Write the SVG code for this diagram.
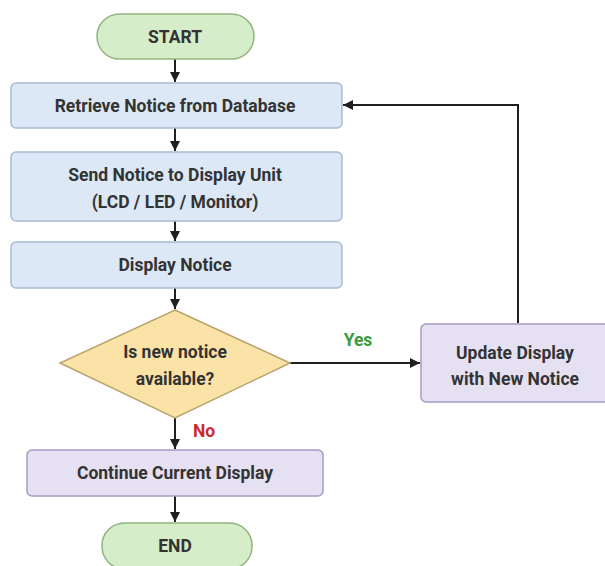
<svg xmlns="http://www.w3.org/2000/svg" width="605" height="566" viewBox="0 0 605 566">
  <defs>
    <marker id="arrow" viewBox="0 0 10 10" refX="10" refY="5" markerWidth="10" markerHeight="10" markerUnits="userSpaceOnUse" orient="auto">
      <path d="M0,0 L10,5 L0,10 Z" fill="#1f1f1f"/>
    </marker>
    <style>
      .term { fill: #d6edc9; stroke: #8fb57f; stroke-width: 1.5; }
      .proc { fill: #dce8f6; stroke: #a8bbd3; stroke-width: 1.5; }
      .alt { fill: #e6e0f3; stroke: #a79bc2; stroke-width: 1.5; }
      .dec { fill: #fbe3a8; stroke: #b9a26c; stroke-width: 1.5; }
      .lbl { font-family: Roboto, "Liberation Sans", sans-serif; font-weight: 700; font-size: 17.5px; fill: #333333; text-anchor: middle; dominant-baseline: central; }
      .edge { fill: none; stroke: #1f1f1f; stroke-width: 2; }
      .yes { fill: #3c9a3c; }
      .no { fill: #cc2a2a; }
    </style>
  </defs>
  <rect width="605" height="566" fill="#ffffff"/>

  <g id="connectors">
    <line class="edge" x1="175" y1="59" x2="175" y2="82" marker-end="url(#arrow)"/>
    <line class="edge" x1="175" y1="128" x2="175" y2="151" marker-end="url(#arrow)"/>
    <line class="edge" x1="175" y1="221" x2="175" y2="241" marker-end="url(#arrow)"/>
    <line class="edge" x1="175" y1="288" x2="175" y2="309" marker-end="url(#arrow)"/>
    <line class="edge" x1="290" y1="363" x2="420" y2="363" marker-end="url(#arrow)"/>
    <line class="edge" x1="175" y1="418" x2="175" y2="449" marker-end="url(#arrow)"/>
    <line class="edge" x1="175" y1="496" x2="175" y2="522" marker-end="url(#arrow)"/>
    <polyline class="edge" points="518,323 518,105 343,105" marker-end="url(#arrow)"/>
    <text class="lbl yes" x="358" y="340">Yes</text>
    <text class="lbl no" x="204" y="431">No</text>
  </g>

  <g id="start">
    <rect class="term" x="97" y="14" width="157" height="45" rx="22.5"/>
    <text class="lbl" x="175" y="37">START</text>
  </g>
  <g id="retrieve">
    <rect class="proc" x="11" y="83" width="331" height="45" rx="5"/>
    <text class="lbl" x="175" y="106">Retrieve Notice from Database</text>
  </g>
  <g id="send">
    <rect class="proc" x="11" y="152" width="331" height="69" rx="5"/>
    <text class="lbl" x="175" y="175">Send Notice to Display Unit</text>
    <text class="lbl" x="175" y="202">(LCD / LED / Monitor)</text>
  </g>
  <g id="display">
    <rect class="proc" x="11" y="242" width="331" height="46" rx="5"/>
    <text class="lbl" x="175" y="265">Display Notice</text>
  </g>
  <g id="decision">
    <polygon class="dec" points="175,310 290,363 175,418 60,363"/>
    <text class="lbl" x="175" y="352">Is new notice</text>
    <text class="lbl" x="175" y="379">available?</text>
  </g>
  <g id="update">
    <rect class="alt" x="421" y="324" width="190" height="78" rx="5"/>
    <text class="lbl" x="515" y="353">Update Display</text>
    <text class="lbl" x="515" y="379">with New Notice</text>
  </g>
  <g id="continue">
    <rect class="alt" x="27" y="450" width="296" height="46" rx="5"/>
    <text class="lbl" x="175" y="473">Continue Current Display</text>
  </g>
  <g id="end">
    <rect class="term" x="102" y="523" width="150" height="46" rx="22.5"/>
    <text class="lbl" x="175" y="546">END</text>
  </g>
</svg>
